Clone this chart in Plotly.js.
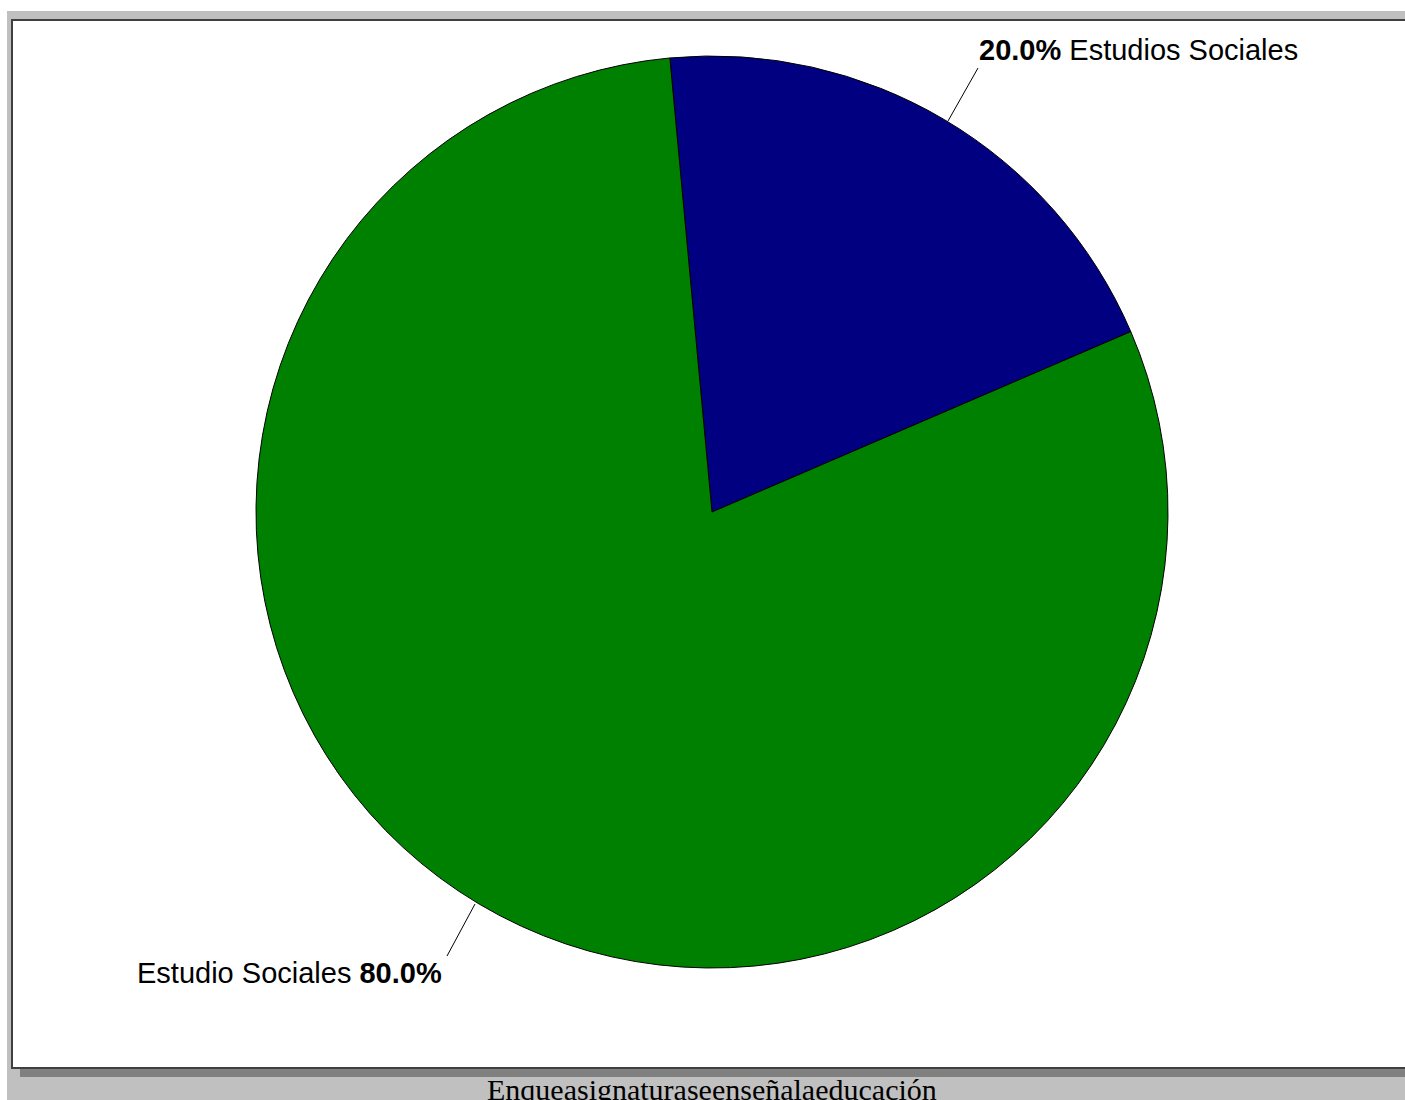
<!DOCTYPE html>
<html>
<head>
<meta charset="utf-8">
<script src="https://cdn.plot.ly/plotly-3.0.1.min.js"></script>
<style>
html,body{margin:0;padding:0;background:#ffffff;}
#chart{position:absolute;left:7px;top:11px;width:1398px;height:1089px;}
</style>
</head>
<body>
<div id="chart"></div>
<script>
// Data
const labels = ["Estudios Sociales", "Estudio Sociales"];
const values = [20, 80];
const sliceColors = ["#000080", "#008000"];
const chartTitle = "Enqueasignaturaseenseñalaeducación";

// Geometry helpers (page pixels -> paper coords)
const OX = 7, OY = 11, ML = 249, MT = 45, PW = 912, PH = 912;
const W = 1398, H = 1089;
function px(x){ return (x - OX - ML) / PW; }
function py(y){ return 1 - (y - OY - MT) / PH; }

const total = values.reduce((a, b) => a + b, 0);
const pct = values.map(v => (v / total * 100).toFixed(1) + "%");

const trace = {
  type: "pie",
  labels: labels,
  values: values,
  sort: false,
  direction: "clockwise",
  rotation: -5.3,
  textinfo: "none",
  hoverinfo: "label+percent",
  marker: { colors: sliceColors, line: { color: "#000000", width: 1 } },
  showlegend: false
};

const labelFont = { family: "Liberation Sans, Arial, sans-serif", size: 29, color: "#000000" };

const layout = {
  width: W,
  height: H,
  margin: { l: ML, t: MT, r: W - ML - PW, b: H - MT - PH, pad: 0 },
  paper_bgcolor: "#c0c0c0",
  showlegend: false,
  shapes: [
    { type: "rect", xref: "paper", yref: "paper", layer: "below",
      x0: px(20), x1: px(1420), y0: py(1077), y1: py(28),
      fillcolor: "#808080", line: { width: 0 } },
    { type: "rect", xref: "paper", yref: "paper", layer: "below",
      x0: px(12), x1: px(1420), y0: py(1068), y1: py(20),
      fillcolor: "#ffffff", line: { color: "#404040", width: 2 } },
    { type: "line", xref: "paper", yref: "paper", layer: "above",
      x0: px(978), y0: py(68), x1: px(948), y1: py(121),
      line: { color: "#000000", width: 1 } },
    { type: "line", xref: "paper", yref: "paper", layer: "above",
      x0: px(475), y0: py(904), x1: px(447), y1: py(956),
      line: { color: "#000000", width: 1 } }
  ],
  annotations: [
    { xref: "paper", yref: "paper", x: px(977), y: py(50), xanchor: "left", yanchor: "middle",
      showarrow: false, font: labelFont,
      text: "<b>" + pct[0] + "</b> " + labels[0] },
    { xref: "paper", yref: "paper", x: px(444), y: py(973), xanchor: "right", yanchor: "middle",
      showarrow: false, font: labelFont,
      text: labels[1] + " <b>" + pct[1] + "</b>" },
    { xref: "paper", yref: "paper", x: px(712), y: py(1089), xanchor: "center", yanchor: "middle",
      showarrow: false,
      font: { family: "Liberation Serif, Times New Roman, serif", size: 30, color: "#000000" },
      text: chartTitle }
  ]
};

Plotly.newPlot("chart", [trace], layout, { displayModeBar: false, staticPlot: true });
</script>
</body>
</html>
